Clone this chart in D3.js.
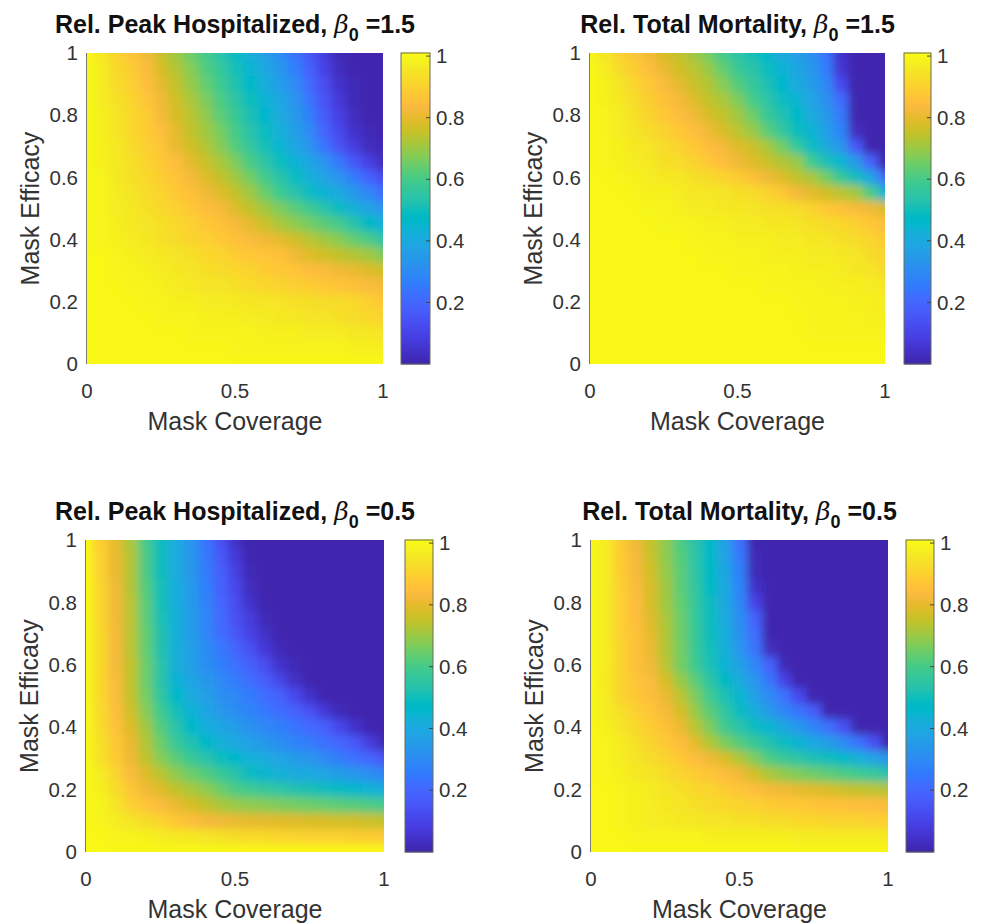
<!DOCTYPE html>
<html><head><meta charset="utf-8">
<script src="https://cdn.jsdelivr.net/npm/d3@7"></script>
<style>
body{margin:0;background:#fff}
svg{display:block}
text{font-family:"Liberation Sans",Arial,Helvetica,sans-serif}
</style>
</head><body>
<svg id="chart" width="988" height="923"></svg>
<script>
// ---------------- DATA ----------------
const coverage = [0,0.05,0.1,0.15,0.2,0.25,0.3,0.35,0.4,0.45,0.5,0.55,0.6,0.65,0.7,0.75,0.8,0.85,0.9,0.95,1];
const efficacy = [1,0.95,0.9,0.85,0.8,0.75,0.7,0.65,0.6,0.55,0.5,0.45,0.4,0.35,0.3,0.25,0.2,0.15,0.1,0.05,0];
const xTicks = [0,0.5,1];
const yTicks = [0,0.2,0.4,0.6,0.8,1];
const colorbarTicks = [0.2,0.4,0.6,0.8,1];
const titles = ["Rel. Peak Hospitalized, ", "Rel. Total Mortality, ", "Rel. Peak Hospitalized, ", "Rel. Total Mortality, "];
const beta0 = ["1.5", "1.5", "0.5", "0.5"];
const xLabel = "Mask Coverage";
const yLabel = "Mask Efficacy";

// rows: efficacy 1 (top) -> 0 (bottom); columns: coverage 0 -> 1
const peakHosp15 = [
[1.00,0.96,0.91,0.87,0.82,0.76,0.71,0.65,0.60,0.54,0.49,0.43,0.37,0.31,0.24,0.16,0.08,0.02,0.01,0.01,0.01],
[1.00,0.97,0.92,0.89,0.84,0.78,0.73,0.68,0.62,0.57,0.51,0.45,0.40,0.34,0.27,0.19,0.10,0.03,0.01,0.01,0.01],
[1.00,0.97,0.93,0.90,0.85,0.80,0.75,0.70,0.64,0.59,0.53,0.47,0.42,0.36,0.30,0.21,0.13,0.05,0.02,0.01,0.01],
[1.00,0.97,0.94,0.91,0.87,0.82,0.77,0.72,0.67,0.61,0.55,0.50,0.44,0.39,0.33,0.24,0.15,0.07,0.02,0.01,0.01],
[1.00,0.98,0.95,0.92,0.89,0.83,0.78,0.74,0.69,0.63,0.58,0.52,0.46,0.41,0.35,0.27,0.17,0.09,0.03,0.01,0.01],
[1.00,0.98,0.95,0.92,0.89,0.85,0.80,0.75,0.71,0.66,0.60,0.54,0.49,0.43,0.37,0.30,0.20,0.12,0.05,0.02,0.01],
[1.00,0.98,0.96,0.93,0.90,0.87,0.81,0.77,0.73,0.68,0.62,0.57,0.51,0.45,0.39,0.33,0.24,0.15,0.08,0.03,0.02],
[1.00,0.98,0.96,0.94,0.91,0.88,0.85,0.80,0.76,0.72,0.67,0.61,0.55,0.50,0.44,0.39,0.33,0.25,0.16,0.09,0.03],
[1.00,0.99,0.96,0.94,0.92,0.89,0.87,0.83,0.79,0.75,0.71,0.66,0.60,0.54,0.49,0.43,0.38,0.33,0.26,0.19,0.13],
[1.00,0.99,0.97,0.95,0.93,0.91,0.88,0.86,0.82,0.79,0.75,0.71,0.65,0.59,0.54,0.49,0.44,0.40,0.35,0.29,0.22],
[1.00,0.99,0.97,0.96,0.94,0.92,0.90,0.88,0.85,0.83,0.79,0.75,0.71,0.67,0.63,0.59,0.54,0.49,0.43,0.38,0.33],
[1.00,0.99,0.98,0.96,0.95,0.94,0.92,0.90,0.88,0.86,0.83,0.80,0.76,0.72,0.69,0.66,0.63,0.60,0.54,0.48,0.43],
[1.00,0.99,0.98,0.97,0.96,0.94,0.93,0.91,0.90,0.88,0.86,0.84,0.82,0.80,0.77,0.74,0.71,0.68,0.64,0.61,0.55],
[1.00,1.00,0.99,0.98,0.97,0.96,0.95,0.94,0.92,0.91,0.89,0.88,0.87,0.86,0.82,0.79,0.77,0.75,0.73,0.71,0.67],
[1.00,1.00,0.99,0.99,0.98,0.97,0.96,0.95,0.94,0.93,0.92,0.91,0.89,0.88,0.87,0.85,0.84,0.82,0.81,0.79,0.77],
[1.00,1.00,1.00,0.99,0.99,0.98,0.97,0.96,0.95,0.95,0.94,0.93,0.92,0.91,0.90,0.89,0.88,0.87,0.86,0.84,0.83],
[1.00,1.00,1.00,1.00,0.99,0.99,0.98,0.98,0.97,0.97,0.96,0.96,0.95,0.95,0.94,0.94,0.93,0.93,0.92,0.90,0.88],
[1.00,1.00,1.00,1.00,1.00,0.99,0.99,0.99,0.98,0.98,0.98,0.97,0.97,0.96,0.96,0.95,0.95,0.94,0.93,0.92,0.91],
[1.00,1.00,1.00,1.00,1.00,1.00,1.00,0.99,0.99,0.99,0.99,0.99,0.98,0.98,0.98,0.97,0.97,0.97,0.96,0.96,0.95],
[1.00,1.00,1.00,1.00,1.00,1.00,1.00,1.00,1.00,1.00,0.99,0.99,0.99,0.99,0.99,0.99,0.99,0.99,0.98,0.98,0.98],
[1.00,1.00,1.00,1.00,1.00,1.00,1.00,1.00,1.00,1.00,1.00,1.00,1.00,1.00,1.00,1.00,1.00,1.00,1.00,1.00,1.00]
];

const mortality15 = [
[1.00,0.95,0.91,0.87,0.82,0.78,0.75,0.71,0.66,0.60,0.55,0.51,0.46,0.41,0.37,0.32,0.24,0.05,0.01,0.01,0.01],
[1.00,0.97,0.93,0.89,0.85,0.81,0.77,0.74,0.70,0.64,0.58,0.54,0.49,0.44,0.39,0.34,0.26,0.06,0.01,0.01,0.01],
[1.00,0.98,0.95,0.91,0.88,0.84,0.80,0.76,0.73,0.68,0.62,0.57,0.52,0.46,0.41,0.36,0.29,0.12,0.01,0.01,0.01],
[1.00,0.98,0.96,0.93,0.89,0.86,0.83,0.79,0.75,0.72,0.67,0.60,0.55,0.49,0.44,0.38,0.32,0.22,0.01,0.01,0.01],
[1.00,0.99,0.97,0.94,0.91,0.88,0.85,0.82,0.78,0.75,0.71,0.65,0.58,0.53,0.47,0.41,0.35,0.25,0.01,0.01,0.01],
[1.00,0.99,0.97,0.95,0.93,0.91,0.88,0.85,0.82,0.78,0.74,0.70,0.63,0.57,0.50,0.44,0.37,0.28,0.03,0.01,0.01],
[1.00,0.99,0.98,0.96,0.95,0.93,0.91,0.88,0.85,0.83,0.79,0.76,0.72,0.66,0.57,0.49,0.41,0.33,0.16,0.01,0.01],
[1.00,0.99,0.98,0.97,0.96,0.94,0.93,0.91,0.88,0.85,0.82,0.79,0.76,0.73,0.70,0.59,0.52,0.45,0.35,0.19,0.01],
[1.00,1.00,0.99,0.98,0.97,0.96,0.96,0.94,0.93,0.91,0.89,0.86,0.82,0.79,0.75,0.72,0.66,0.58,0.50,0.39,0.20],
[1.00,1.00,1.00,0.99,0.98,0.98,0.97,0.96,0.95,0.95,0.94,0.93,0.91,0.88,0.83,0.80,0.77,0.74,0.71,0.61,0.45],
[1.00,1.00,1.00,1.00,0.99,0.99,0.98,0.97,0.97,0.96,0.96,0.95,0.94,0.94,0.93,0.91,0.88,0.86,0.84,0.82,0.78],
[1.00,1.00,1.00,1.00,1.00,0.99,0.99,0.99,0.98,0.98,0.97,0.97,0.96,0.96,0.95,0.94,0.93,0.92,0.90,0.88,0.85],
[1.00,1.00,1.00,1.00,1.00,1.00,1.00,0.99,0.99,0.99,0.98,0.98,0.98,0.97,0.97,0.96,0.95,0.94,0.93,0.91,0.89],
[1.00,1.00,1.00,1.00,1.00,1.00,1.00,1.00,0.99,0.99,0.99,0.99,0.98,0.98,0.98,0.97,0.97,0.96,0.95,0.93,0.91],
[1.00,1.00,1.00,1.00,1.00,1.00,1.00,1.00,1.00,1.00,0.99,0.99,0.99,0.99,0.98,0.98,0.98,0.97,0.96,0.95,0.93],
[1.00,1.00,1.00,1.00,1.00,1.00,1.00,1.00,1.00,1.00,1.00,1.00,0.99,0.99,0.99,0.99,0.98,0.98,0.98,0.97,0.96],
[1.00,1.00,1.00,1.00,1.00,1.00,1.00,1.00,1.00,1.00,1.00,1.00,1.00,1.00,0.99,0.99,0.99,0.99,0.98,0.98,0.97],
[1.00,1.00,1.00,1.00,1.00,1.00,1.00,1.00,1.00,1.00,1.00,1.00,1.00,1.00,1.00,0.99,0.99,0.99,0.99,0.98,0.98],
[1.00,1.00,1.00,1.00,1.00,1.00,1.00,1.00,1.00,1.00,1.00,1.00,1.00,1.00,1.00,0.99,0.99,0.99,0.99,0.99,0.99],
[1.00,1.00,1.00,1.00,1.00,1.00,1.00,1.00,1.00,1.00,1.00,1.00,1.00,1.00,1.00,1.00,1.00,1.00,1.00,1.00,1.00],
[1.00,1.00,1.00,1.00,1.00,1.00,1.00,1.00,1.00,1.00,1.00,1.00,1.00,1.00,1.00,1.00,1.00,1.00,1.00,1.00,1.00]
];

const peakHosp05 = [
[1.00,0.89,0.80,0.72,0.60,0.49,0.41,0.33,0.24,0.14,0.04,0.01,0.01,0.01,0.01,0.01,0.01,0.01,0.01,0.01,0.01],
[1.00,0.90,0.81,0.73,0.61,0.50,0.41,0.34,0.25,0.16,0.07,0.01,0.01,0.01,0.01,0.01,0.01,0.01,0.01,0.01,0.01],
[1.00,0.90,0.81,0.73,0.61,0.50,0.41,0.34,0.26,0.18,0.09,0.02,0.01,0.01,0.01,0.01,0.01,0.01,0.01,0.01,0.01],
[1.00,0.91,0.82,0.73,0.62,0.51,0.42,0.35,0.27,0.19,0.11,0.03,0.01,0.01,0.01,0.01,0.01,0.01,0.01,0.01,0.01],
[1.00,0.91,0.82,0.74,0.63,0.51,0.42,0.35,0.28,0.20,0.13,0.05,0.01,0.01,0.01,0.01,0.01,0.01,0.01,0.01,0.01],
[1.00,0.91,0.82,0.74,0.63,0.52,0.43,0.36,0.29,0.21,0.14,0.08,0.02,0.01,0.01,0.01,0.01,0.01,0.01,0.01,0.01],
[1.00,0.92,0.83,0.74,0.64,0.53,0.43,0.36,0.29,0.22,0.16,0.10,0.04,0.01,0.01,0.01,0.01,0.01,0.01,0.01,0.01],
[1.00,0.92,0.83,0.74,0.64,0.53,0.43,0.37,0.31,0.25,0.20,0.14,0.07,0.02,0.01,0.01,0.01,0.01,0.01,0.01,0.01],
[1.00,0.92,0.83,0.75,0.65,0.54,0.43,0.37,0.31,0.27,0.23,0.19,0.13,0.05,0.02,0.01,0.01,0.01,0.01,0.01,0.01],
[1.00,0.92,0.84,0.75,0.65,0.54,0.44,0.39,0.34,0.30,0.26,0.22,0.18,0.11,0.04,0.01,0.01,0.01,0.01,0.01,0.01],
[1.00,0.92,0.84,0.75,0.66,0.56,0.47,0.41,0.37,0.32,0.29,0.26,0.22,0.19,0.12,0.05,0.01,0.01,0.01,0.01,0.01],
[1.00,0.93,0.85,0.77,0.68,0.59,0.51,0.44,0.39,0.35,0.31,0.28,0.25,0.22,0.19,0.14,0.07,0.02,0.01,0.01,0.01],
[1.00,0.93,0.86,0.79,0.71,0.62,0.54,0.47,0.42,0.39,0.36,0.32,0.29,0.27,0.24,0.21,0.18,0.11,0.05,0.01,0.01],
[1.00,0.94,0.88,0.81,0.73,0.65,0.58,0.53,0.47,0.43,0.40,0.37,0.34,0.31,0.28,0.26,0.23,0.20,0.16,0.08,0.02],
[1.00,0.94,0.89,0.82,0.75,0.68,0.63,0.58,0.54,0.50,0.46,0.43,0.41,0.38,0.36,0.33,0.30,0.26,0.23,0.20,0.15],
[1.00,0.97,0.91,0.84,0.79,0.74,0.69,0.65,0.62,0.58,0.54,0.49,0.45,0.43,0.41,0.40,0.38,0.36,0.34,0.31,0.28],
[1.00,0.98,0.93,0.88,0.82,0.79,0.75,0.72,0.69,0.65,0.61,0.59,0.57,0.55,0.53,0.52,0.50,0.48,0.46,0.44,0.42],
[1.00,0.99,0.95,0.90,0.87,0.84,0.81,0.78,0.75,0.72,0.70,0.69,0.68,0.67,0.66,0.65,0.64,0.63,0.62,0.61,0.60],
[1.00,0.99,0.97,0.95,0.93,0.91,0.88,0.85,0.83,0.82,0.81,0.80,0.80,0.79,0.79,0.78,0.78,0.77,0.77,0.76,0.75],
[1.00,1.00,0.99,0.99,0.98,0.97,0.96,0.96,0.95,0.94,0.93,0.92,0.92,0.91,0.91,0.90,0.90,0.90,0.89,0.89,0.88],
[1.00,1.00,1.00,1.00,1.00,1.00,1.00,1.00,1.00,1.00,1.00,1.00,1.00,1.00,1.00,1.00,1.00,1.00,1.00,1.00,1.00]
];

const mortality05 = [
[1.00,0.97,0.89,0.82,0.75,0.69,0.61,0.54,0.47,0.37,0.23,0.01,0.01,0.01,0.01,0.01,0.01,0.01,0.01,0.01,0.01],
[1.00,0.97,0.89,0.83,0.76,0.69,0.62,0.55,0.47,0.38,0.25,0.02,0.01,0.01,0.01,0.01,0.01,0.01,0.01,0.01,0.01],
[1.00,0.97,0.89,0.83,0.77,0.70,0.63,0.55,0.48,0.39,0.27,0.02,0.01,0.01,0.01,0.01,0.01,0.01,0.01,0.01,0.01],
[1.00,0.97,0.90,0.84,0.78,0.71,0.63,0.56,0.48,0.40,0.28,0.05,0.01,0.01,0.01,0.01,0.01,0.01,0.01,0.01,0.01],
[1.00,0.97,0.90,0.85,0.78,0.71,0.64,0.57,0.49,0.40,0.29,0.10,0.01,0.01,0.01,0.01,0.01,0.01,0.01,0.01,0.01],
[1.00,0.97,0.90,0.85,0.79,0.72,0.65,0.57,0.50,0.41,0.31,0.19,0.01,0.01,0.01,0.01,0.01,0.01,0.01,0.01,0.01],
[1.00,0.97,0.90,0.86,0.80,0.73,0.65,0.58,0.50,0.42,0.32,0.22,0.01,0.01,0.01,0.01,0.01,0.01,0.01,0.01,0.01],
[1.00,0.97,0.91,0.86,0.81,0.73,0.66,0.58,0.51,0.43,0.33,0.24,0.03,0.01,0.01,0.01,0.01,0.01,0.01,0.01,0.01],
[1.00,0.97,0.91,0.86,0.82,0.74,0.66,0.59,0.52,0.44,0.37,0.29,0.19,0.02,0.01,0.01,0.01,0.01,0.01,0.01,0.01],
[1.00,0.96,0.91,0.87,0.84,0.78,0.70,0.63,0.55,0.48,0.41,0.33,0.24,0.10,0.01,0.01,0.01,0.01,0.01,0.01,0.01],
[1.00,0.97,0.91,0.88,0.85,0.81,0.74,0.67,0.59,0.52,0.45,0.37,0.30,0.23,0.12,0.01,0.01,0.01,0.01,0.01,0.01],
[1.00,0.97,0.94,0.90,0.87,0.83,0.78,0.70,0.63,0.56,0.49,0.42,0.35,0.29,0.24,0.18,0.01,0.01,0.01,0.01,0.01],
[1.00,0.98,0.95,0.92,0.89,0.86,0.81,0.74,0.67,0.59,0.54,0.49,0.45,0.39,0.34,0.28,0.23,0.14,0.01,0.01,0.01],
[1.00,0.99,0.97,0.94,0.91,0.88,0.85,0.80,0.73,0.67,0.62,0.58,0.53,0.49,0.44,0.40,0.36,0.30,0.24,0.14,0.01],
[1.00,0.99,0.97,0.95,0.93,0.91,0.88,0.85,0.82,0.78,0.73,0.67,0.61,0.58,0.55,0.52,0.50,0.47,0.43,0.38,0.33],
[1.00,0.99,0.98,0.96,0.95,0.93,0.91,0.89,0.87,0.85,0.82,0.77,0.72,0.69,0.67,0.65,0.63,0.61,0.59,0.57,0.54],
[1.00,1.00,0.99,0.98,0.97,0.95,0.94,0.92,0.91,0.89,0.87,0.85,0.83,0.82,0.80,0.79,0.78,0.76,0.75,0.74,0.73],
[1.00,1.00,0.99,0.98,0.97,0.96,0.95,0.94,0.93,0.92,0.91,0.90,0.89,0.88,0.88,0.87,0.86,0.86,0.85,0.85,0.84],
[1.00,1.00,0.99,0.98,0.97,0.97,0.96,0.96,0.95,0.95,0.94,0.94,0.93,0.93,0.92,0.92,0.91,0.91,0.91,0.90,0.90],
[1.00,1.00,1.00,0.99,0.99,0.99,0.99,0.99,0.98,0.98,0.98,0.98,0.98,0.98,0.97,0.97,0.97,0.97,0.97,0.97,0.96],
[1.00,1.00,1.00,1.00,1.00,1.00,1.00,1.00,1.00,1.00,1.00,1.00,1.00,1.00,1.00,1.00,1.00,1.00,1.00,1.00,1.00]
];

const panelValues = [peakHosp15, mortality15, peakHosp05, mortality05];

// ---------------- STYLE / LAYOUT ----------------
// MATLAB parula colormap stops (style)
const parula = [
[0.2422,0.1504,0.6603],[0.2504,0.1650,0.7076],[0.2578,0.1818,0.7511],[0.2647,0.1978,0.7952],
[0.2706,0.2147,0.8364],[0.2751,0.2342,0.8710],[0.2783,0.2559,0.8991],[0.2803,0.2782,0.9221],
[0.2813,0.3006,0.9414],[0.2810,0.3228,0.9579],[0.2795,0.3447,0.9717],[0.2760,0.3667,0.9829],
[0.2699,0.3892,0.9906],[0.2602,0.4123,0.9952],[0.2440,0.4358,0.9988],[0.2206,0.4603,0.9973],
[0.1963,0.4847,0.9892],[0.1834,0.5074,0.9798],[0.1786,0.5289,0.9682],[0.1764,0.5499,0.9520],
[0.1687,0.5703,0.9359],[0.1540,0.5902,0.9218],[0.1460,0.6091,0.9079],[0.1380,0.6276,0.8973],
[0.1248,0.6459,0.8883],[0.1113,0.6635,0.8763],[0.0952,0.6798,0.8598],[0.0689,0.6948,0.8394],
[0.0297,0.7082,0.8163],[0.0036,0.7203,0.7917],[0.0067,0.7312,0.7660],[0.0433,0.7411,0.7394],
[0.0964,0.7500,0.7120],[0.1408,0.7584,0.6842],[0.1717,0.7670,0.6554],[0.1938,0.7758,0.6251],
[0.2161,0.7843,0.5923],[0.2470,0.7918,0.5567],[0.2906,0.7973,0.5188],[0.3406,0.8008,0.4789],
[0.3909,0.8029,0.4354],[0.4456,0.8024,0.3909],[0.5044,0.7993,0.3480],[0.5616,0.7942,0.3045],
[0.6174,0.7876,0.2612],[0.6720,0.7793,0.2227],[0.7242,0.7698,0.1910],[0.7738,0.7598,0.1646],
[0.8203,0.7498,0.1535],[0.8634,0.7406,0.1596],[0.9035,0.7330,0.1774],[0.9393,0.7288,0.2100],
[0.9728,0.7298,0.2394],[0.9956,0.7434,0.2371],[0.9970,0.7659,0.2199],[0.9952,0.7893,0.2028],
[0.9892,0.8136,0.1885],[0.9786,0.8386,0.1766],[0.9676,0.8639,0.1643],[0.9610,0.8890,0.1537],
[0.9597,0.9135,0.1423],[0.9628,0.9373,0.1265],[0.9691,0.9606,0.1064],[0.9769,0.9839,0.0805]
].map(c => d3.rgb(c[0]*255, c[1]*255, c[2]*255).formatHex());

const cmin = 0, cmax = 1.01;
const color = d3.scaleSequential(d3.piecewise(d3.interpolateRgb, parula)).domain([cmin, cmax]);

const layout = [
  {x0:87,  x1:383, y0:53,  y1:364, cb0:401, cb1:430},
  {x0:590, x1:885, y0:53,  y1:364, cb0:904, cb1:931},
  {x0:86,  x1:384, y0:540, y1:852, cb0:405, cb1:433},
  {x0:591, x1:888, y0:540, y1:852, cb0:906, cb1:934}
];

const tickColor = "#333";
const tickFont = 20.5, labelFont = 25, titleFont = 25;

const svg = d3.select("#chart");
const defs = svg.append("defs");
defs.append("filter").attr("id", "smooth")
  .attr("x", "-10%").attr("y", "-10%").attr("width", "120%").attr("height", "120%")
  .append("feGaussianBlur").attr("stdDeviation", 4.5);

layout.forEach((L, k) => {
  const values = panelValues[k];
  const g = svg.append("g");
  const xs = d3.scaleLinear().domain([0,1]).range([L.x0, L.x1]);
  const ys = d3.scaleLinear().domain([0,1]).range([L.y1, L.y0]);
  const hx = (coverage[1]-coverage[0])/2;
  const hy = (efficacy[0]-efficacy[1])/2;
  const pad = 0.06; // extend border cells beyond the frame (clipped away)

  defs.append("clipPath").attr("id", "clip" + k)
    .append("rect").attr("x", L.x0).attr("y", L.y0).attr("width", L.x1 - L.x0).attr("height", L.y1 - L.y0);

  const cells = [];
  efficacy.forEach((e, r) => {
    coverage.forEach((p, c) => {
      cells.push({p, e, v: values[r][c],
        pl: p - hx - (c === 0 ? pad : 0), pr: p + hx + (c === coverage.length - 1 ? pad : 0),
        et: e + hy + (r === 0 ? pad : 0), eb: e - hy - (r === efficacy.length - 1 ? pad : 0)});
    });
  });

  g.append("g").attr("clip-path", `url(#clip${k})`)
   .append("g").attr("filter", "url(#smooth)")
   .selectAll("rect").data(cells).join("rect")
    .attr("x", d => xs(d.pl))
    .attr("y", d => ys(d.et))
    .attr("width", d => xs(d.pr) - xs(d.pl) + 0.6)
    .attr("height", d => ys(d.eb) - ys(d.et) + 0.6)
    .attr("fill", d => color(d.v))
    .attr("shape-rendering", "crispEdges");

  // left axis line
  g.append("line").attr("x1", L.x0 - 0.5).attr("x2", L.x0 - 0.5).attr("y1", L.y0).attr("y2", L.y1)
    .attr("stroke", "#7a7a7a").attr("stroke-width", 1);

  // x ticks
  g.append("g").selectAll("text").data(xTicks).join("text")
    .attr("x", d => xs(d)).attr("y", L.y1 + 27).attr("dy", "0.35em")
    .attr("text-anchor", "middle").attr("font-size", tickFont).attr("fill", tickColor)
    .text(d => String(d));
  // y ticks
  g.append("g").selectAll("text").data(yTicks).join("text")
    .attr("x", L.x0 - 9).attr("y", d => ys(d)).attr("dy", "0.35em")
    .attr("text-anchor", "end").attr("font-size", tickFont).attr("fill", tickColor)
    .text(d => String(d));

  // axis labels
  g.append("text").attr("x", (L.x0 + L.x1)/2).attr("y", L.y1 + 66)
    .attr("text-anchor", "middle").attr("font-size", labelFont).attr("fill", tickColor).text(xLabel);
  g.append("text").attr("transform", `translate(${L.x0 - 48},${(L.y0 + L.y1)/2}) rotate(-90)`)
    .attr("text-anchor", "middle").attr("font-size", labelFont).attr("fill", tickColor).text(yLabel);

  // title
  const t = g.append("text").attr("x", (L.x0 + L.x1)/2).attr("y", L.y0 - 20)
    .attr("text-anchor", "middle").attr("font-size", titleFont).attr("font-weight", "bold").attr("fill", "#111");
  t.append("tspan").text(titles[k]);
  t.append("tspan").attr("font-family", "'DejaVu Serif','Liberation Serif',serif").attr("font-style", "italic")
    .attr("font-weight", "normal").text("\u03B2");
  t.append("tspan").attr("dy", 8).attr("font-size", 18).text("0");
  t.append("tspan").attr("dy", -8).text(" =" + beta0[k]);

  // colorbar
  const cs = d3.scaleLinear().domain([cmin, cmax]).range([L.y1, L.y0]);
  const steps = d3.range(0, 200).map(i => cmin + (cmax - cmin) * i / 200);
  const dv = (cmax - cmin) / 200;
  g.append("g").selectAll("rect").data(steps).join("rect")
    .attr("x", L.cb0).attr("width", L.cb1 - L.cb0)
    .attr("y", d => cs(d + dv) - 0.5).attr("height", d => cs(d) - cs(d + dv) + 1)
    .attr("fill", d => color(d + dv/2));
  g.append("rect").attr("x", L.cb0).attr("y", L.y0).attr("width", L.cb1 - L.cb0).attr("height", L.y1 - L.y0)
    .attr("fill", "none").attr("stroke", "#6b6b5a").attr("stroke-width", 1);
  g.append("g").selectAll("line").data(colorbarTicks).join("line")
    .attr("x1", L.cb1 - 4).attr("x2", L.cb1).attr("y1", d => cs(d)).attr("y2", d => cs(d))
    .attr("stroke", "#444").attr("stroke-width", 1);
  g.append("g").selectAll("text").data(colorbarTicks).join("text")
    .attr("x", L.cb1 + 6).attr("y", d => cs(d)).attr("dy", "0.35em")
    .attr("font-size", tickFont).attr("fill", tickColor)
    .text(d => String(d));
});
</script>
</body></html>
